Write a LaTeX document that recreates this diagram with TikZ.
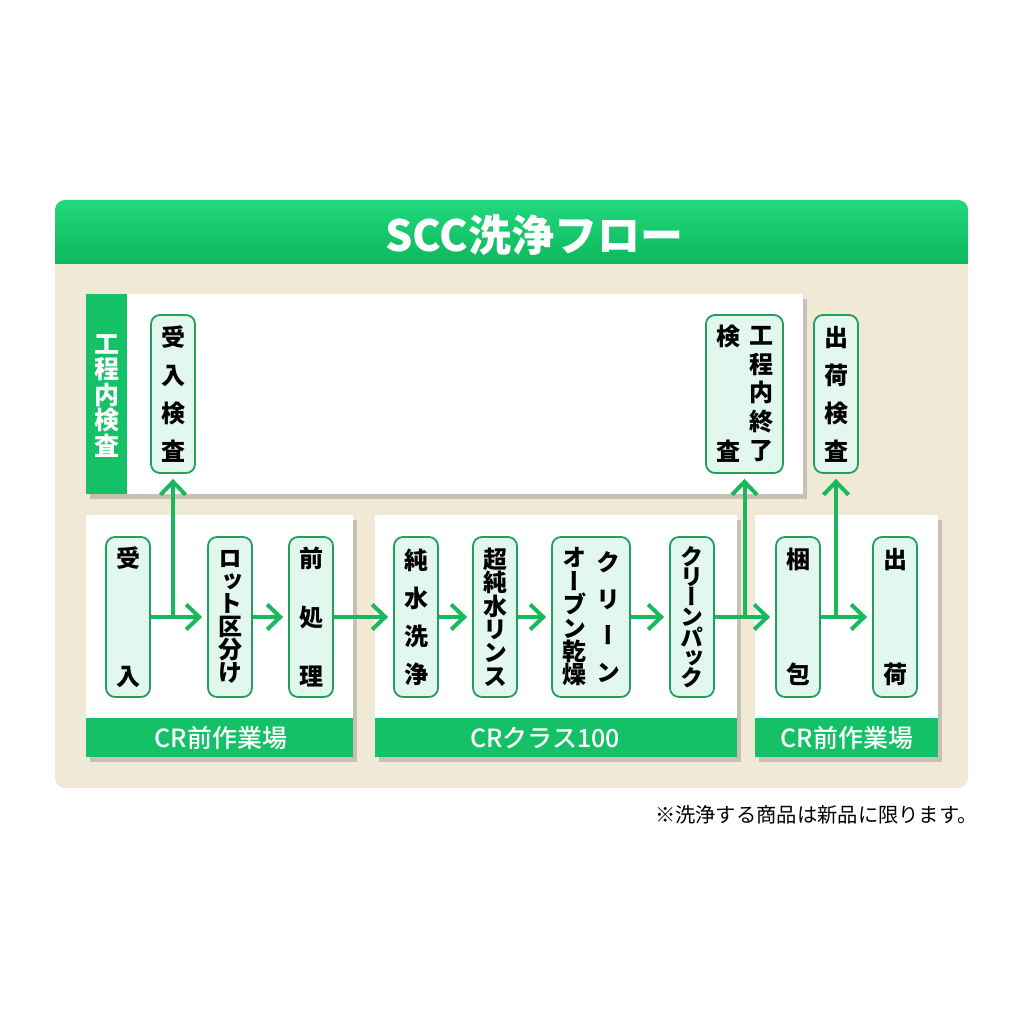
\documentclass[tikz,border=0pt]{standalone}
\usepackage{fontspec}
\usetikzlibrary{arrows.meta,shadows}
\newfontfamily\jp{Noto Sans CJK JP}
\newfontfamily\jpm{Noto Sans CJK JP Medium}
\newfontfamily\jpv{Noto Sans CJK JP}[RawFeature=+vert]
\definecolor{beige}{HTML}{F0E9D6}
\definecolor{hdrA}{HTML}{22D87E}
\definecolor{hdrB}{HTML}{0DB95B}
\definecolor{foot}{HTML}{14C167}
\definecolor{arr}{HTML}{19B85C}
\definecolor{nbord}{HTML}{229E5E}
\definecolor{nfill}{HTML}{E2F8EE}
\newcommand{\vcol}[3][24]{\begin{minipage}[c]{#1pt}\centering\fontsize{#1}{#2}\selectfont #3\end{minipage}}
\begin{document}
\begin{tikzpicture}[x=1pt,y=-1pt,
  stepbox/.style={draw=nbord, line width=1.8pt, fill=nfill, rounded corners=9pt,
    minimum width=44pt, minimum height=160pt, inner sep=0pt, font=\jpv\bfseries},
  inspbox/.style={stepbox, minimum height=158pt},
  panelshadow/.style={drop shadow={shadow xshift=4pt, shadow yshift=-5pt, fill=black!60, opacity=0.3}},
  foottext/.style={text=white, font=\jpm\fontsize{25}{25}\selectfont, inner sep=0pt},
  conn/.style={draw=arr, line width=4pt, -{Straight Barb[length=13pt,width=25pt]}, shorten >=5pt},
]
\useasboundingbox (0,0) rectangle (1024,1024);
\fill[white] (0,0) rectangle (1024,1024);
% outer panel
\fill[beige, rounded corners=10pt] (55,200) rectangle (968,788);
\begin{scope}
  \clip[rounded corners=10pt] (55,200) rectangle (968,788);
  \shade[top color=hdrA, bottom color=hdrB] (55,200) rectangle (968,263);
\end{scope}
\node[text=white, font=\jp\bfseries\fontsize{43}{43}\selectfont, inner sep=0pt] (title) at (534,235) {SCC洗浄フロー};

% top inspection panel
\fill[white, panelshadow] (86,294) rectangle (803,494);
\fill[foot] (86,294) rectangle (127,494);
\node[text=white, font=\jpv\bfseries, inner sep=0pt] (strip) at (107,396) {\vcol[25]{25.5}{工\\程\\内\\検\\査}};

% bottom panels
\fill[white, panelshadow] (86,515) rectangle (353,757);
\fill[foot] (86,718) rectangle (353,757);
\node[foottext] (f1) at (221,738) {CR前作業場};
\fill[white, panelshadow] (375,515) rectangle (737,757);
\fill[foot] (375,718) rectangle (737,757);
\node[foottext] (f2) at (545,738) {CRクラス100};
\fill[white, panelshadow] (755,515) rectangle (938,757);
\fill[foot] (755,718) rectangle (938,757);
\node[foottext] (f3) at (847,738) {CR前作業場};

% inspection boxes
\node[inspbox] (insA) at (173,394) {\vcol{38}{受\\入\\検\\査}};
\node[inspbox, minimum width=77pt] (insB) at (744.5,394) {\vcol{115}{検\\査}\hspace{9pt}\vcol{28.8}{工\\程\\内\\終\\了}};
\node[inspbox] (insC) at (836,394) {\vcol{38}{出\\荷\\検\\査}};

% process steps
\node[stepbox] (s1) at (128,617) {\vcol{118}{受\\入}};
\node[stepbox] (s2) at (230,617) {\vcol{22.5}{ロ\\ッ\\ト\\区\\分\\け}};
\node[stepbox] (s3) at (311,617) {\vcol{59}{前\\処\\理}};
\node[stepbox] (s4) at (416,617) {\vcol{38}{純\\水\\洗\\浄}};
\node[stepbox] (s5) at (495,617) {\vcol{23.4}{超\\純\\水\\リ\\ン\\ス}};
\node[stepbox, minimum width=78pt] (s6) at (591,617) {\vcol{23.4}{オ\\ー\\ブ\\ン\\乾\\燥}\hspace{10pt}\vcol{36.7}{ク\\リ\\ー\\ン}};
\node[stepbox] (s7) at (692,617) {\vcol[23]{19.8}{ク\\リ\\ー\\ン\\パ\\ッ\\ク}};
\node[stepbox] (s8) at (798,617) {\vcol{115}{梱\\包}};
\node[stepbox] (s9) at (895,617) {\vcol{115}{出\\荷}};

% connectors
\draw[conn] (s1) -- (s2);
\draw[conn] (s2) -- (s3);
\draw[conn] (s3) -- (s4);
\draw[conn] (s4) -- (s5);
\draw[conn] (s5) -- (s6);
\draw[conn] (s6) -- (s7);
\draw[conn] (s7) -- (s8);
\draw[conn] (s8) -- (s9);
\coordinate (j1) at (insA.south |- s1.east);
\coordinate (j2) at (insB.south |- s1.east);
\coordinate (j3) at (insC.south |- s1.east);
\draw[conn] (j1) -- (insA);
\draw[conn] (j2) -- (insB);
\draw[conn] (j3) -- (insC);

% note
\node[anchor=east, font=\jp\fontsize{20.3}{20.3}\selectfont, inner sep=0pt] (note) at (978,815) {※洗浄する商品は新品に限ります。};
\end{tikzpicture}
\end{document}
